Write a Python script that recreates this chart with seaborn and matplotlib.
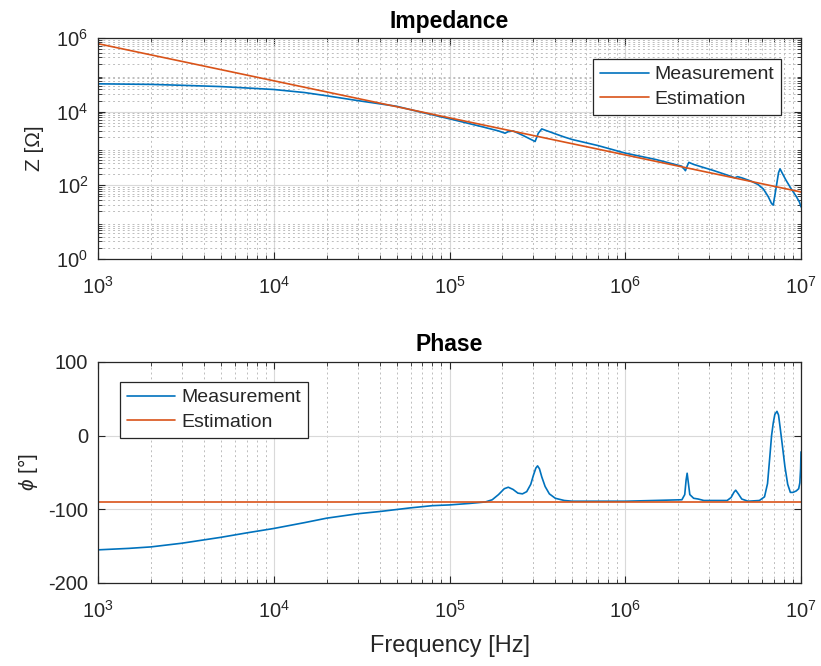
import numpy as np
import pandas as pd
import matplotlib
matplotlib.use("Agg")
import matplotlib.pyplot as plt
import matplotlib.ticker as mticker
import seaborn as sns

# ---------------- data ----------------
z_freq = [1e3, 2e3, 3e3, 5e3, 7e3, 1e4, 1.5e4, 2e4, 3e4, 5e4, 7e4, 1e5, 1.5e5, 1.9e5,
          2.07e5, 2.15e5, 2.3e5, 2.6e5, 2.85e5, 3.07e5, 3.2e5, 3.35e5, 3.6e5, 4.0e5,
          4.5e5, 5e5, 7e5, 1e6, 1.5e6, 2.1e6, 2.2e6, 2.26e6, 2.3e6, 2.45e6, 2.7e6,
          3.2e6, 4.0e6, 4.2e6, 4.35e6, 4.6e6, 5.2e6, 5.7e6, 6.1e6, 6.5e6, 6.8e6,
          6.95e6, 7.2e6, 7.45e6, 7.6e6, 7.8e6, 8.2e6, 8.8e6, 9.4e6, 9.8e6, 1e7]
z_meas = [5.7e4, 5.5e4, 5.2e4, 4.8e4, 4.4e4, 4.0e4, 3.3e4, 2.7e4, 2.0e4, 1.4e4, 9.5e3,
          6.4e3, 4.0e3, 3.0e3, 2.6e3, 2.85e3, 3.0e3, 2.3e3, 1.85e3, 1.55e3, 2.6e3,
          3.4e3, 3.0e3, 2.5e3, 2.05e3, 1.75e3, 1.2e3, 7.5e2, 5.0e2, 3.3e2, 2.5e2,
          3.5e2, 4.2e2, 3.7e2, 3.2e2, 2.5e2, 1.75e2, 1.6e2, 1.72e2, 1.6e2, 1.3e2,
          1.05e2, 8.0e1, 5.0e1, 3.2e1, 2.9e1, 8.0e1, 2.2e2, 2.8e2, 2.2e2, 1.4e2,
          8.0e1, 5.0e1, 3.5e1, 2.6e1]
z_est_freq = [1e3, 1e4, 1e5, 1e6, 1e7]
z_est = [7.0e5, 6.9e4, 6.8e3, 6.7e2, 6.6e1]

p_freq = [1e3, 1.5e3, 2e3, 3e3, 5e3, 7e3, 1e4, 1.5e4, 2e4, 3e4, 4e4, 6e4, 8e4, 1e5,
          1.3e5, 1.6e5, 1.75e5, 1.9e5, 2.05e5, 2.16e5, 2.3e5, 2.45e5, 2.6e5, 2.75e5,
          2.9e5, 3.0e5, 3.1e5, 3.17e5, 3.25e5, 3.35e5, 3.5e5, 3.7e5, 4.0e5, 4.5e5,
          5e5, 1e6, 2.1e6, 2.18e6, 2.22e6, 2.25e6, 2.28e6, 2.33e6, 2.45e6, 2.6e6,
          2.8e6, 3.8e6, 4.0e6, 4.15e6, 4.25e6, 4.4e6, 4.6e6, 5.0e6, 5.8e6, 6.2e6,
          6.45e6, 6.65e6, 6.8e6, 6.95e6, 7.1e6, 7.3e6, 7.45e6, 7.6e6, 7.85e6, 8.1e6,
          8.4e6, 8.7e6, 9.0e6, 9.4e6, 9.7e6, 9.85e6, 9.95e6, 1e7]
p_meas = [-155, -153, -151, -146, -138, -132, -126, -118, -112, -106, -103, -98, -95, -94,
          -92, -90, -87, -80, -72, -70, -73, -78, -79, -76,
          -66, -54, -44, -41, -45, -56, -69, -79, -85, -88,
          -89, -89, -87, -80, -60, -51, -62, -80, -85, -86,
          -88, -88, -84, -77, -74, -79, -86, -89, -88, -83,
          -65, -28, 0, 17, 29, 33, 28, 12, -15, -42,
          -66, -77, -77, -75, -72, -64, -45, -22]
p_est_freq = [1e3, 1e7]
p_est = [-90, -90]

labels = ["Measurement", "Estimation"]
colors = ["#0072BD", "#D95319"]

# ---------------- style ----------------
sns.set_style("ticks")
plt.rcParams["font.family"] = ["Liberation Sans", "DejaVu Sans"]
plt.rcParams["mathtext.fontset"] = "custom"
plt.rcParams["mathtext.rm"] = "Liberation Sans"
plt.rcParams["mathtext.it"] = "Liberation Sans:italic"
plt.rcParams["axes.unicode_minus"] = False

fig = plt.figure(figsize=(8.21, 6.66), dpi=100)
ax1 = fig.add_axes([98 / 821, 1 - 259 / 666, 703 / 821, 221 / 666])
ax2 = fig.add_axes([98 / 821, 1 - 583 / 666, 703 / 821, 221 / 666])

dfz = pd.concat([
    pd.DataFrame({"f": z_freq, "v": z_meas, "s": labels[0]}),
    pd.DataFrame({"f": z_est_freq, "v": z_est, "s": labels[1]}),
])
dfp = pd.concat([
    pd.DataFrame({"f": p_freq, "v": p_meas, "s": labels[0]}),
    pd.DataFrame({"f": p_est_freq, "v": p_est, "s": labels[1]}),
])

for ax, df in ((ax1, dfz), (ax2, dfp)):
    ax.set_xscale("log")
    sns.lineplot(data=df, x="f", y="v", hue="s", palette=colors, ax=ax,
                 linewidth=1.2, sort=False, estimator=None)

ax1.set_yscale("log")
ax1.set_ylim(1, 1e6)
ax1.set_yticks([1, 1e2, 1e4, 1e6])
ax1.yaxis.set_minor_locator(mticker.LogLocator(base=10, subs=np.arange(2, 10), numticks=50))
ax1.yaxis.set_minor_formatter(mticker.NullFormatter())
ax2.set_ylim(-200, 100)
ax2.set_yticks([-200, -100, 0, 100])

txt = "#262626"
for ax in (ax1, ax2):
    ax.set_xlim(1e3, 1e7)
    ax.set_xticks([1e3, 1e4, 1e5, 1e6, 1e7])
    ax.xaxis.set_minor_locator(mticker.LogLocator(base=10, subs=np.arange(2, 10), numticks=50))
    ax.xaxis.set_minor_formatter(mticker.NullFormatter())
    ax.grid(True, which="major", color="#d9d9d9", linewidth=0.8, linestyle="-")
    ax.set_axisbelow(True)
    ax.tick_params(which="both", direction="in", top=True, right=True, colors=txt,
                   labelsize=14.5, labelcolor=txt)
    ax.tick_params(which="major", length=5, width=0.8, pad=7)
    ax.tick_params(axis="x", which="major", pad=12.5)
    ax.tick_params(which="minor", length=3, width=0.6)
    for sp in ax.spines.values():
        sp.set_visible(True)
        sp.set_color(txt)
        sp.set_linewidth(0.9)
    ax.set_xlabel("")

ax1.grid(True, which="minor", axis="both", color="#bdbdbd", linewidth=0.7, linestyle=(0, (2, 3)))
ax2.grid(True, which="minor", axis="x", color="#bdbdbd", linewidth=0.7, linestyle=(0, (2, 3)))

ax1.set_title("Impedance", fontsize=16.5, fontweight="bold", color="black", pad=7)
ax2.set_title("Phase", fontsize=16.5, fontweight="bold", color="black", pad=8)
ax1.set_ylabel("Z [Ω]", fontsize=15, color=txt, labelpad=9)
ax2.set_ylabel(r"$\phi$ [°]", fontsize=15, color=txt, labelpad=6)
ax2.set_xlabel("Frequency [Hz]", fontsize=17, color=txt, labelpad=9)

for ax, loc, anchor in ((ax1, "upper right", (0.9716, 0.905)), (ax2, "upper left", (0.031, 0.9095))):
    h, l = ax.get_legend_handles_labels()
    leg = ax.legend(h, l, loc=loc, bbox_to_anchor=anchor, fontsize=14, frameon=True,
                    fancybox=False, edgecolor="#262626", framealpha=1, borderpad=0.35,
                    handlelength=2.5, handletextpad=0.3, labelspacing=0.35, borderaxespad=0)
    leg.get_frame().set_linewidth(0.9)

fig.savefig("out.png", dpi=100)
